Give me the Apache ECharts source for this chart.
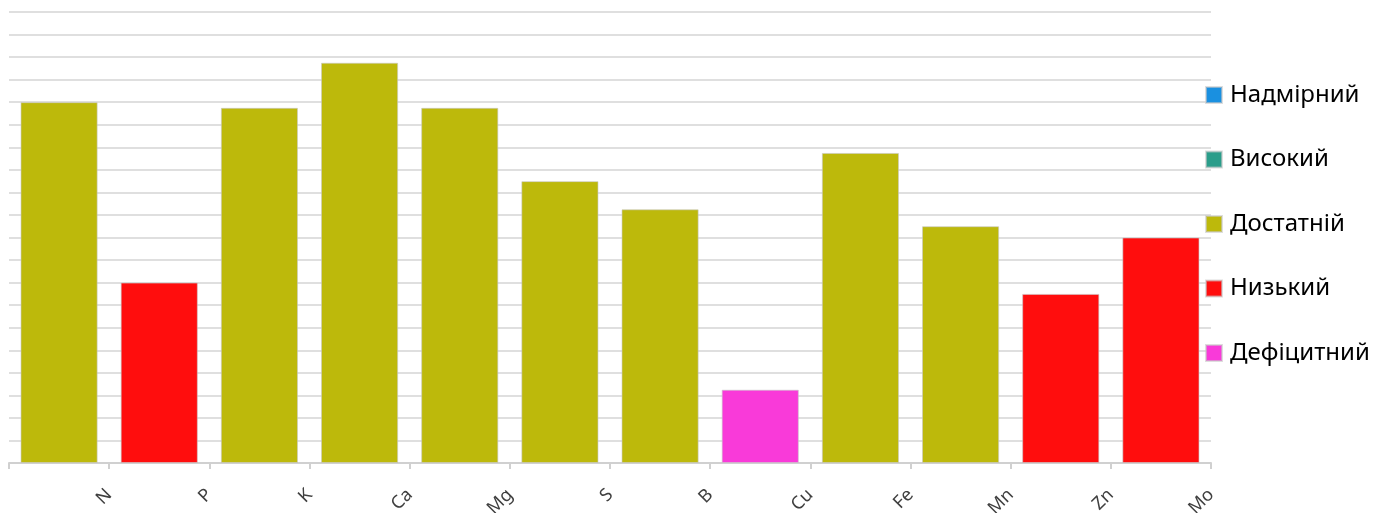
<!DOCTYPE html>
<html>
<head>
<meta charset="utf-8">
<script src="https://cdn.jsdelivr.net/npm/echarts@6/dist/echarts.min.js"></script>
<style>
html,body{margin:0;padding:0;background:#fff;}
#chart{width:1375px;height:513px;}
</style>
</head>
<body>
<div id="chart"></div>
<script>
const categories = ['N','P','K','Ca','Mg','S','B','Cu','Fe','Mn','Zn','Mo'];
const values = [16.0, 8.0, 15.75, 17.75, 15.75, 12.5, 11.25, 3.25, 13.75, 10.5, 7.5, 10.0];
const levels = ['Достатній','Низький','Достатній','Достатній','Достатній','Достатній','Достатній','Дефіцитний','Достатній','Достатній','Низький','Низький'];
const levelNames = ['Надмірний','Високий','Достатній','Низький','Дефіцитний'];
const levelColors = ['#1a90e0','#2a9d8a','#bdb90b','#ff0d0d','#f93ad9'];
const axisMin = 0, axisMax = 20, axisStep = 1;

const chart = echarts.init(document.getElementById('chart'), null, {renderer:'canvas'});

const series = levelNames.map((name, k) => ({
  name: name,
  type: 'bar',
  stack: 'all',
  xAxisIndex: 0,
  barCategoryGap: '23%',
  itemStyle: {color: levelColors[k], borderColor: 'rgba(200,200,200,0.6)', borderWidth: 1},
  data: values.map((v, i) => levels[i] === name ? v : '-')
}));

const option = {
  animation: false,
  backgroundColor: '#fff',
  grid: {left: 9, right: 164, top: 12, bottom: 50, containLabel: false, outerBoundsMode: 'none'},
  legend: {
    orient: 'vertical',
    left: 1205,
    top: 82,
    padding: 0,
    itemWidth: 16,
    itemHeight: 16,
    itemGap: 38.5,
    icon: 'rect',
    selectedMode: false,
    data: levelNames,
    textStyle: {fontFamily: 'Noto Sans', fontSize: 24, color: '#000', lineHeight: 26, padding: [0,0,0,3]}
  },
  xAxis: [
    {
      type: 'category',
      data: categories,
      boundaryGap: true,
      axisLine: {show: true, lineStyle: {color: '#d0d0d0', width: 2}},
      axisTick: {show: true, length: 6, lineStyle: {color: '#d0d0d0', width: 2}},
      axisLabel: {show: false}
    },
    {
      type: 'category',
      data: [''].concat(categories),
      boundaryGap: false,
      position: 'bottom',
      axisLine: {show: false},
      axisTick: {show: false},
      axisLabel: {show: true, interval: 0, rotate: 45, margin: 29, fontFamily: 'Noto Sans', fontSize: 18, color: '#404040'}
    }
  ],
  yAxis: {
    type: 'value',
    min: axisMin,
    max: axisMax,
    interval: axisStep,
    axisLine: {show: false},
    axisTick: {show: false},
    axisLabel: {show: false},
    splitLine: {show: true, lineStyle: {color: '#d4d4d4', width: 1.5}}
  },
  series: series
};
chart.setOption(option);
</script>
</body>
</html>
